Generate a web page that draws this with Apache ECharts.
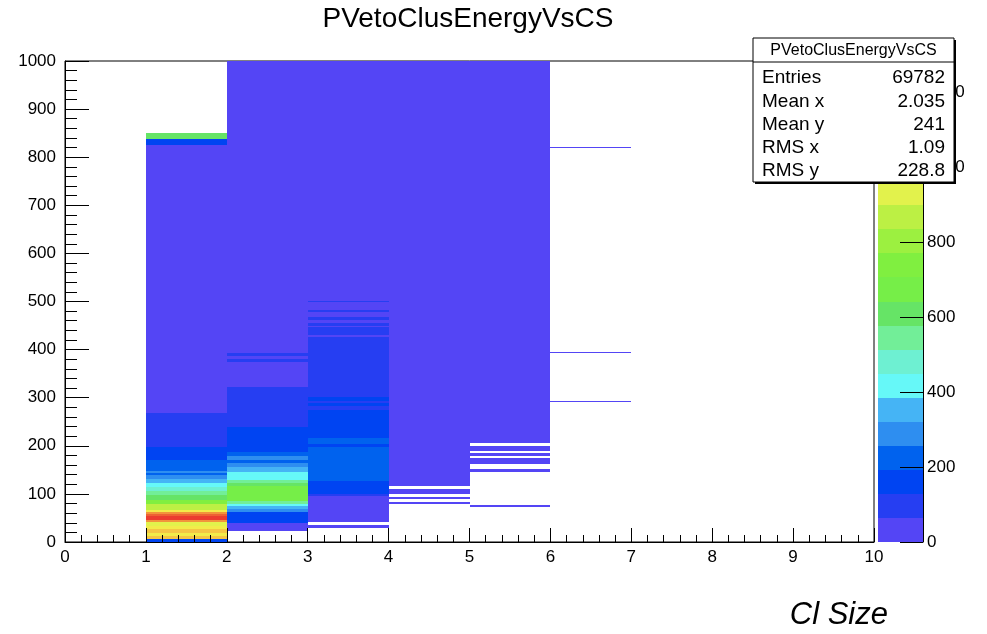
<!DOCTYPE html>
<html>
<head>
<meta charset="utf-8">
<title>PVetoClusEnergyVsCS</title>
<script src="https://cdn.jsdelivr.net/npm/echarts@6.0.0/dist/echarts.min.js"></script>
<style>
  html, body { margin: 0; padding: 0; background: #ffffff; }
  #chart { width: 987px; height: 634px; }
</style>
</head>
<body>
<div id="chart"></div>
<script>
// 2D histogram: cluster energy vs cluster size, drawn as colour cells.
// Each run is [yLow, yHigh, binContent] for one x bin (width 1).
const col1Runs = [
  [0, 6, 160], [6, 12, 1060], [12, 18, 995], [18, 26, 1060], [26, 34, 995],
  [34, 42, 930], [42, 46, 1120], [46, 54, 1270], [54, 58, 1185], [58, 62, 1120],
  [62, 66, 995], [66, 78, 865], [78, 88, 740], [88, 98, 610], [98, 106, 545],
  [106, 114, 480], [114, 122, 415], [122, 132, 350], [132, 140, 290], [140, 144, 225],
  [144, 148, 290], [148, 170, 225], [170, 198, 160], [198, 268, 95], [268, 826, 12],
  [826, 838, 160], [838, 850, 610]
];
const col2Runs = [
  [22, 40, 12], [40, 62, 160], [62, 68, 290], [68, 74, 350], [74, 80, 415],
  [80, 86, 545], [86, 116, 675], [116, 122, 610], [122, 128, 545], [128, 146, 415],
  [146, 156, 350], [156, 164, 290], [164, 170, 225], [170, 178, 290], [178, 188, 225],
  [188, 240, 160], [240, 322, 95], [322, 374, 12], [374, 380, 95], [380, 386, 12],
  [386, 392, 95], [392, 1000, 12]
];
const col3Runs = [
  [30, 36, 12], [42, 96, 12], [96, 100, 95], [100, 126, 160], [126, 198, 225],
  [198, 204, 160], [204, 216, 225], [216, 274, 160], [274, 282, 95], [282, 288, 160],
  [288, 294, 95], [294, 302, 160], [302, 426, 95], [426, 430, 12], [430, 446, 95],
  [446, 450, 12], [450, 456, 95], [456, 462, 12], [462, 468, 95], [468, 478, 12],
  [478, 482, 95], [482, 498, 12], [498, 502, 95], [502, 1000, 12]
];
const col4Runs = [[80, 84, 12], [90, 94, 12], [100, 110, 12], [116, 1000, 12]];
const col5Runs = [[72, 76, 12], [146, 152, 12], [162, 174, 12], [178, 186, 12], [190, 200, 12], [206, 1000, 12]];
const col6Runs = [[292, 294, 12], [394, 396, 12], [820, 822, 12]];

// Low edge of each x bin that holds entries
const xBinLow = [1, 2, 3, 4, 5, 6];
const columns = [col1Runs, col2Runs, col3Runs, col4Runs, col5Runs, col6Runs];

// Stats box contents
const statsTitle = 'PVetoClusEnergyVsCS';
const statsLabels = ['Entries', 'Mean x', 'Mean y', 'RMS x', 'RMS y'];
const statsValues = ['69782', '2.035', '241', '1.09', '228.8'];

// Colour scale: 20 contour levels from 0 to zMax
const zMax = 1284;
const palette = [
  '#5445F5', '#263EF2', '#0044F2', '#0062EE', '#2E8EF0',
  '#45B4F5', '#66F8F8', '#6EF0D2', '#72EE98', '#66E466',
  '#76EE48', '#80EF40', '#9CF040', '#BCF044', '#E2F24C',
  '#F2EC4A', '#F5C645', '#F2943C', '#EE6234', '#EC3C30'
];
const nLevels = palette.length;
const levelStep = zMax / nLevels;

function colorFor(n) {
  const k = Math.min(nLevels - 1, Math.max(0, Math.floor(n / levelStep)));
  return palette[k];
}

// Flatten runs into custom-series items [xLow, yLow, yHigh, content]
const cellData = [];
columns.forEach((runs, i) => {
  runs.forEach(r => cellData.push([xBinLow[i], r[0], r[1], r[2]]));
});

// Colour bar blocks [zLow, zHigh, level]
const barData = palette.map((c, k) => [k * levelStep, (k + 1) * levelStep, k]);

const FONT = '"Liberation Sans", Arial, Helvetica, sans-serif';

// Pixel-snapped rectangle between two data corners, at least 1px tall
function snappedRect(pTop, pBot) {
  const x0 = Math.round(pTop[0]), x1 = Math.round(pBot[0]);
  let y0 = Math.round(pTop[1]), y1 = Math.round(pBot[1]);
  if (y1 - y0 < 1) y1 = y0 + 1;
  return { x: x0, y: y0, width: x1 - x0, height: y1 - y0 };
}

function renderCell(params, api) {
  const x0 = api.value(0), y0 = api.value(1), y1 = api.value(2), n = api.value(3);
  return {
    type: 'rect',
    shape: snappedRect(api.coord([x0, y1]), api.coord([x0 + 1, y0])),
    style: { fill: colorFor(n) }
  };
}

function renderBar(params, api) {
  const z0 = api.value(0), z1 = api.value(1), k = api.value(2);
  return {
    type: 'rect',
    shape: snappedRect(api.coord([0, z1]), api.coord([1, z0])),
    style: { fill: palette[k] }
  };
}

const axisBlack = { color: '#000', width: 1 };

// Stats box drawn on top of the frame and colour bar
const TOP = 100;
const box = { x: 753, y: 38, w: 201, h: 144, header: 24 };
const statsElements = [
  { type: 'rect', z: TOP, shape: { x: box.x + 2, y: box.y + 2, width: box.w, height: box.h }, style: { fill: '#000' } },
  { type: 'rect', z: TOP + 1, shape: { x: box.x, y: box.y, width: box.w, height: box.h }, style: { fill: '#fff', stroke: '#000', lineWidth: 1 } },
  { type: 'line', z: TOP + 2, shape: { x1: box.x, y1: box.y + box.header, x2: box.x + box.w, y2: box.y + box.header }, style: { stroke: '#000', lineWidth: 1 } },
  { type: 'text', z: TOP + 2, x: box.x + box.w / 2, y: box.y + box.header / 2 + 1,
    style: { text: statsTitle, font: '16px ' + FONT, fill: '#000', textAlign: 'center', textVerticalAlign: 'middle' } }
];
statsLabels.forEach((lab, i) => {
  const yy = box.y + 40 + i * 23.3;
  statsElements.push({ type: 'text', z: TOP + 2, x: box.x + 9, y: yy,
    style: { text: lab, font: '19px ' + FONT, fill: '#000', textAlign: 'left', textVerticalAlign: 'middle' } });
  statsElements.push({ type: 'text', z: TOP + 2, x: box.x + box.w - 9, y: yy,
    style: { text: statsValues[i], font: '19px ' + FONT, fill: '#000', textAlign: 'right', textVerticalAlign: 'middle' } });
});

const option = {
  animation: false,
  backgroundColor: '#ffffff',
  grid: [
    { left: 65, top: 61, width: 809, height: 481, show: true, borderColor: '#000', borderWidth: 1, backgroundColor: 'transparent' },
    { left: 878, top: 61, width: 45, height: 481 }
  ],
  xAxis: [
    {
      type: 'value', gridIndex: 0, min: 0, max: 10, interval: 1, z: 10,
      axisLine: { show: true, onZero: false, lineStyle: axisBlack },
      axisTick: { show: true, inside: true, length: 14, lineStyle: axisBlack },
      minorTick: { show: true, splitNumber: 5, length: 7, lineStyle: axisBlack },
      splitLine: { show: false },
      axisLabel: { color: '#000', fontSize: 17, fontFamily: FONT, margin: 7, formatter: v => String(v) }
    },
    { type: 'value', gridIndex: 1, min: 0, max: 1, show: false }
  ],
  yAxis: [
    {
      type: 'value', gridIndex: 0, min: 0, max: 1000, interval: 100, z: 10,
      axisLine: { show: true, onZero: false, lineStyle: axisBlack },
      axisTick: { show: true, inside: true, length: 24, lineStyle: axisBlack },
      minorTick: { show: true, splitNumber: 5, length: 12, lineStyle: axisBlack },
      splitLine: { show: false },
      axisLabel: { color: '#000', fontSize: 17, fontFamily: FONT, margin: 9, formatter: v => String(v) }
    },
    {
      type: 'value', gridIndex: 1, position: 'right', min: 0, max: zMax, interval: 200, z: 10,
      axisLine: { show: true, onZero: false, lineStyle: axisBlack },
      axisTick: { show: true, inside: true, length: 23, lineStyle: axisBlack },
      splitLine: { show: false },
      axisLabel: {
        color: '#000', fontSize: 17, fontFamily: FONT, margin: 4, showMaxLabel: false,
        formatter: v => (Math.round(v) % 200 === 0 ? String(Math.round(v)) : '')
      }
    }
  ],
  series: [
    {
      type: 'custom', name: 'PVetoClusEnergyVsCS', xAxisIndex: 0, yAxisIndex: 0,
      renderItem: renderCell, clip: true,
      encode: { x: [0], y: [1, 2] },
      data: cellData
    },
    {
      type: 'custom', name: 'palette', xAxisIndex: 1, yAxisIndex: 1,
      renderItem: renderBar,
      encode: { y: [0, 1] },
      data: barData
    }
  ],
  graphic: [
    { type: 'text', x: 468, y: 19, z: TOP,
      style: { text: 'PVetoClusEnergyVsCS', font: '28px ' + FONT, fill: '#000', textAlign: 'center', textVerticalAlign: 'middle' } },
    { type: 'text', x: 888, y: 615, z: TOP,
      style: { text: 'Cl Size', font: 'italic 31px ' + FONT, fill: '#000', textAlign: 'right', textVerticalAlign: 'middle' } },
    { type: 'group', z: TOP, children: statsElements }
  ]
};

const chart = echarts.init(document.getElementById('chart'), null, { renderer: 'canvas' });
chart.setOption(option);
</script>
</body>
</html>
